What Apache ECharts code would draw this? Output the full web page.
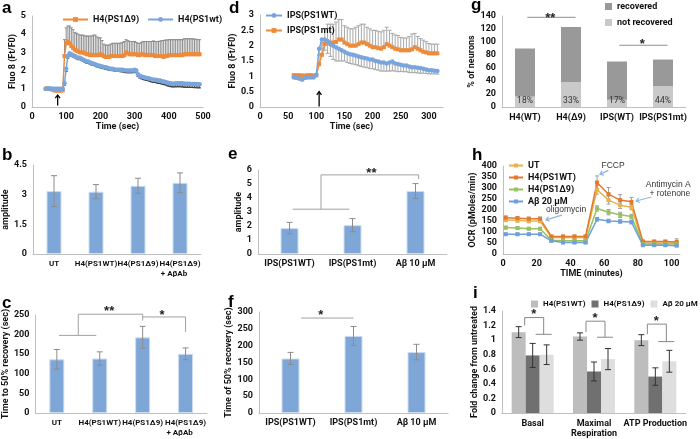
<!DOCTYPE html>
<html><head><meta charset="utf-8">
<script src="https://cdn.jsdelivr.net/npm/echarts@6/dist/echarts.min.js"></script>
<style>html,body{margin:0;padding:0;background:#fff}#c{width:700px;height:439px}</style>
</head><body><div id="c"></div>
<script>
// ---------- DATA ----------
// panel a
const aT = [40,45,50,55,60,65,70,75,80,85,90,95,100,105,110,115,120,125,130,135,140,145,150,155,160,165,170,175,180,185,190,195,200,205,210,215,220,225,230,235,240,245,250,255,260,265,270,275,280,285,290,295,300,305,310,315,320,325,330,335,340,345,350,355,360,365,370,375,380,385,390,395,400,405,410,415,420,425,430,435,440,445,450,455,460,465,470,475,480,485,490];
const aD9 = [1.0,1.02,1.0,0.98,0.95,0.92,0.9,0.9,0.9,0.9,0.92,
 2.8,3.5,3.6,3.5,3.35,3.25,3.15,3.1,3.05,
 3.0,3.0,3.0,2.95,2.9,2.9,2.85,2.85,2.85,2.85,
 2.85,2.85,2.9,2.85,2.8,2.75,2.75,2.75,2.8,2.8,
 2.8,2.8,2.8,2.8,2.8,2.8,2.85,3.0,2.95,2.9,
 2.9,2.9,2.9,2.9,2.85,2.85,2.9,2.9,2.85,2.85,
 2.85,2.85,2.85,2.85,2.8,2.8,2.8,2.8,2.8,2.75,
 2.8,2.8,2.85,2.85,2.85,2.85,2.85,2.85,2.85,2.85,
 2.85,2.9,2.9,2.9,2.9,2.9,2.9,2.9,2.9,2.9,2.9];
const aD9Err = [0.08,0.08,0.08,0.08,0.08,0.08,0.08,0.08,0.08,0.08,0.08,
 0.9,0.85,0.85,0.95,1.0,1.0,0.95,0.95,0.95,
 0.95,0.95,0.95,0.95,1.0,1.0,1.05,1.05,1.1,1.1,
 1.0,0.95,0.9,0.8,0.65,0.65,0.65,0.65,0.65,0.7,
 0.7,0.7,0.7,0.7,0.72,0.75,0.75,0.7,0.7,0.7,
 0.7,0.7,0.7,0.65,0.65,0.65,0.65,0.7,0.75,0.75,
 0.75,0.75,0.75,0.78,0.8,0.8,0.8,0.82,0.85,0.9,
 0.88,0.88,0.85,0.85,0.85,0.85,0.85,0.85,0.85,0.85,
 0.85,0.85,0.85,0.85,0.85,0.85,0.85,0.83,0.82,0.8,0.8];
const aWT = [1.0,1.0,1.02,1.02,1.0,1.0,1.0,1.0,1.0,1.0,1.0,
 1.3,2.1,2.8,2.95,2.9,2.85,2.8,2.75,2.7,
 2.7,2.65,2.6,2.55,2.5,2.5,2.45,2.4,2.38,2.35,
 2.3,2.28,2.25,2.22,2.2,2.18,2.15,2.12,2.1,2.1,
 2.08,2.05,2.05,2.05,2.05,2.05,2.02,2.0,2.0,2.0,
 2.0,2.0,2.05,2.0,1.8,1.72,1.68,1.65,1.62,1.6,
 1.58,1.55,1.52,1.5,1.5,1.48,1.45,1.45,1.42,1.4,
 1.38,1.35,1.32,1.3,1.28,1.28,1.3,1.3,1.3,1.3,
 1.3,1.28,1.28,1.28,1.28,1.27,1.27,1.26,1.26,1.25,1.25];
const aWTErr = [0.05,0.05,0.05,0.05,0.05,0.05,0.05,0.05,0.05,0.05,0.05,
 0.1,0.15,0.12,0.1,0.1,0.1,0.1,0.1,0.1,
 0.1,0.1,0.1,0.1,0.1,0.1,0.1,0.1,0.1,0.1,
 0.1,0.1,0.1,0.1,0.1,0.1,0.1,0.1,0.1,0.1,
 0.1,0.1,0.1,0.1,0.12,0.12,0.12,0.12,0.12,0.12,
 0.12,0.12,0.12,0.12,0.13,0.13,0.13,0.14,0.14,0.14,
 0.14,0.15,0.15,0.15,0.15,0.16,0.16,0.16,0.17,0.17,
 0.17,0.18,0.18,0.18,0.18,0.18,0.19,0.19,0.19,0.19,
 0.2,0.2,0.2,0.2,0.2,0.2,0.2,0.2,0.2,0.2,0.2];
// panel d
const dT = [60,65,70,75,80,85,90,95,100,105,110,115,120,125,130,135,140,145,150,155,160,165,170,175,180,185,190,195,200,205,210,215,220,225,230,235,240,245,250,255,260,265,270,275,280,285,290,295,300,305,310,315];
const dWT = [0.97,0.95,0.93,0.9,0.95,0.97,0.97,0.97,1.05,1.9,2.2,2.2,2.15,2.05,2.0,1.95,1.9,1.85,1.8,1.75,1.72,1.7,1.68,1.65,1.62,1.6,1.58,1.55,1.55,1.5,1.48,1.45,1.45,1.42,1.45,1.48,1.42,1.4,1.38,1.35,1.35,1.32,1.3,1.3,1.28,1.27,1.25,1.22,1.2,1.2,1.18,1.17];
const dWTErr = [0.05,0.05,0.05,0.05,0.05,0.05,0.05,0.05,0.05,0.2,0.3,0.35,0.4,0.4,0.45,0.45,0.4,0.35,0.3,0.3,0.3,0.3,0.3,0.3,0.3,0.3,0.3,0.3,0.3,0.28,0.28,0.28,0.28,0.25,0.28,0.3,0.25,0.25,0.22,0.2,0.2,0.2,0.18,0.18,0.17,0.17,0.15,0.13,0.12,0.12,0.1,0.1];
const dMT = [1.03,1.03,1.03,1.02,1.02,1.03,1.03,1.02,1.03,1.4,1.7,2.05,2.1,2.1,2.1,2.12,2.2,2.2,2.1,2.05,2.0,2.0,2.0,2.05,2.1,2.1,2.05,2.0,1.95,1.95,1.92,1.9,1.95,2.05,2.0,1.95,1.9,1.88,1.85,1.85,1.85,1.85,1.88,1.95,1.9,1.85,1.8,1.78,1.75,1.75,1.75,1.75];
const dMTErr = [0.05,0.05,0.05,0.05,0.05,0.05,0.05,0.05,0.05,0.3,0.4,0.5,0.6,0.6,0.6,0.65,0.65,0.65,0.55,0.55,0.55,0.55,0.6,0.6,0.6,0.6,0.55,0.55,0.55,0.55,0.55,0.55,0.55,0.55,0.5,0.45,0.45,0.45,0.42,0.4,0.4,0.45,0.5,0.45,0.4,0.38,0.38,0.35,0.32,0.3,0.3,0.3];
// panel g
const gCats = ['H4(WT)','H4(Δ9)','IPS(WT)','IPS(PS1mt)'];
const gRecovered = [74,85,59,41];
const gNotRecovered = [16,38,11,32];
const gPct = ['18%','33%','17%','44%'];
// panel b
const bCats = ['UT','H4(PS1WT)','H4(PS1Δ9)','H4(PS1Δ9)\n+ AβAb      '];
const bVals = [3.18,3.15,3.45,3.6];
const bErr = [0.78,0.36,0.38,0.5];
// panel e
const eCats = ['IPS(PS1WT)','IPS(PS1mt)','Aβ 10 μM'];
const eVals = [1.85,2.06,4.5];
const eErr = [0.41,0.47,0.53];
// panel h
const hT = [1.6,8.6,15.3,22,28.7,35.6,42.4,49,55.8,62.6,69.5,76.2,83,89.7,96.3,103];
const hUT = [155,153,150,150,75,75,75,75,292,245,222,213,50,50,50,50];
const hWT = [165,163,160,160,80,80,80,80,325,272,245,237,57,57,57,55];
const hD9 = [120,118,115,115,62,60,60,60,207,190,178,170,45,45,45,45];
const hAb = [90,90,90,90,60,52,52,52,158,150,148,145,40,40,40,38];
const hUTErr = [8,8,8,8,5,5,5,5,20,18,15,12,5,5,5,5];
const hWTErr = [8,8,8,8,5,5,5,5,30,30,25,20,5,5,5,14];
const hD9Err = [6,6,6,6,5,5,5,5,12,12,12,10,4,4,4,4];
const hAbErr = [5,5,5,5,4,4,4,4,8,8,8,8,4,4,4,4];
// panel c
const cCats = ['UT','H4(PS1WT)','H4(PS1Δ9)','H4(PS1Δ9)\n+ AβAb      '];
const cVals = [137,139,193,151];
const cErr = [25,17,28,15];
// panel f
const fCats = ['IPS(PS1WT)','IPS(PS1mt)','Aβ 10 μM'];
const fVals = [162,229,181];
const fErr = [18,28,23];
// panel i
const iCats = ['Basal','Maximal\nRespiration','ATP Production'];
const iWT = [1.11,1.05,1.0];
const iWTErr = [0.075,0.05,0.075];
const iD9 = [0.79,0.57,0.50];
const iD9Err = [0.165,0.13,0.12];
const iAb = [0.80,0.74,0.71];
const iAbErr = [0.135,0.145,0.15];

// ---------- STYLE HELPERS ----------
const FF = "Roboto,'Liberation Sans',Arial,sans-serif";
const AX = '#bfbfbf';
const TXT = '#111';
const ORANGE = '#ee8b3a', BLUE = '#79a5dc', BAR = '#7ea7d8';
const lbl = (fs) => ({fontFamily:FF, fontSize:fs||9, fontWeight:'bold', color:TXT});
const nameStyle = () => ({fontFamily:FF, fontSize:9, fontWeight:'bold', color:TXT});

function valAxis(gi, min, max, interval, name, nameGap, o) {
  o = o || {};
  return {type:'value', gridIndex:gi, min, max, interval,
    axisLine:{show:true, lineStyle:{color:AX}}, axisTick:{show:false}, splitLine:{show:false},
    axisLabel:Object.assign(lbl(9), {margin:o.margin||5, showMaxLabel:o.showMax!==false}),
    name, nameLocation:'middle', nameGap, nameTextStyle:nameStyle()};
}
function catAxis(gi, data, o) {
  o = o || {};
  return {type:'category', gridIndex:gi, data, boundaryGap:true,
    axisLine:{show:true, lineStyle:{color:AX}}, axisTick:{show:false}, splitLine:{show:false},
    axisLabel:Object.assign(lbl(o.fs||8), {margin:o.margin||5, interval:0, lineHeight:10})};
}
function lineS(gi, name, xs, ys, color, symbol, size) {
  return {type:'line', name, xAxisIndex:gi, yAxisIndex:gi, data:xs.map((x,i)=>[x, ys[i]]),
    symbol, symbolSize:size, showSymbol:true, lineStyle:{width:1.5, color}, itemStyle:{color}, z:3, animation:false};
}
function errS(gi, xs, vals, errs, o) {
  const data = xs.map((x,i)=>[x, vals[i]-(o.down?errs[i]:0), vals[i]+(o.up?errs[i]:0)]);
  return {type:'custom', xAxisIndex:gi, yAxisIndex:gi, silent:true, z:o.z||2, data,
    renderItem(params, api){
      const x = api.value(0);
      const lo = api.coord([x, api.value(1)]), hi = api.coord([x, api.value(2)]);
      const X = lo[0] + (o.offset||0), c = o.cap;
      const st = {stroke:o.color, lineWidth:o.lw||1};
      const ch = [{type:'line', shape:{x1:X,y1:lo[1],x2:X,y2:hi[1]}, style:st}];
      if (o.up) ch.push({type:'line', shape:{x1:X-c,y1:hi[1],x2:X+c,y2:hi[1]}, style:st});
      if (o.down) ch.push({type:'line', shape:{x1:X-c,y1:lo[1],x2:X+c,y2:lo[1]}, style:st});
      return {type:'group', children:ch};
    }};
}
function barS(gi, name, vals, color, w, extra) {
  return Object.assign({type:'bar', name, xAxisIndex:gi, yAxisIndex:gi, data:vals, barWidth:w,
    itemStyle:{color, borderColor:'#cddcf0', borderWidth:1}, z:2}, extra||{});
}
const legendBase = (o) => Object.assign({selectedMode:false, padding:0, formatter:n=>n.slice(2),
  textStyle:{fontFamily:FF, fontSize:o.fs||9, fontWeight:'bold', color:TXT}}, o);

// ---------- OPTION ----------
const grids = [
  {left:32, top:16, width:171, height:91},   // 0 a
  {left:260, top:15, width:183, height:92},  // 1 d
  {left:502, top:16, width:184, height:91},  // 2 g
  {left:33, top:165, width:168, height:89},  // 3 b
  {left:258, top:170, width:189, height:84}, // 4 e
  {left:503, top:166, width:177, height:88}, // 5 h
  {left:32, top:315, width:175, height:98},  // 6 c
  {left:259, top:312, width:189, height:101},// 7 f
  {left:502, top:311, width:184, height:103} // 8 i
];
const xAxes = [
  valAxis(0,0,500,100,'Time (sec)',14),
  valAxis(1,0,325,50,'Time (sec)',14,{showMax:false}),
  catAxis(2, gCats, {margin:6, fs:9}),
  catAxis(3, bCats, {margin:5}),
  catAxis(4, eCats, {margin:5, fs:9}),
  valAxis(5,0,105,20,'TIME (minutes)',15,{showMax:false}),
  catAxis(6, cCats, {margin:5}),
  catAxis(7, fCats, {margin:5, fs:9}),
  catAxis(8, iCats, {margin:6, fs:9})
];
const yAxes = [
  valAxis(0,0,5,1,'Fluo 8 (Ft/F0)',15,{margin:6}),
  valAxis(1,0,3,0.5,'Fluo 8 (Ft/F0)',21,{margin:6}),
  valAxis(2,0,140,20,'% of neurons',19,{margin:6}),
  valAxis(3,0,4.5,1.5,'amplitude',17,{margin:6}),
  valAxis(4,0,6,1,'amplitude',10,{margin:6}),
  valAxis(5,0,400,50,'OCR (pMoles/min)',20,{margin:6}),
  valAxis(6,0,250,50,'Time to 50% recovery (sec)',23,{margin:6}),
  valAxis(7,0,300,50,'Time of 50% recovery (sec)',21,{margin:6}),
  valAxis(8,0,1.4,0.2,'Fold change from untreated',20,{margin:6})
];
const idx3 = [0,1,2], idx4 = [0,1,2,3];
const series = [
  // a
  errS(0, aT, aD9, aD9Err, {up:true, color:'#8c8c8c', cap:1.5}),
  lineS(0, 'a|H4(PS1Δ9)', aT, aD9, ORANGE, 'rect', 4),
  errS(0, aT, aWT, aWTErr, {down:true, color:'#404040', cap:1.5}),
  lineS(0, 'a|H4(PS1wt)', aT, aWT, BLUE, 'circle', 4.5),
  // d
  errS(1, dT, dMT, dMTErr, {up:true, color:'#a8a8a8', cap:2}),
  errS(1, dT, dWT, dWTErr, {down:true, color:'#a8a8a8', cap:2}),
  lineS(1, 'd|IPS(PS1mt)', dT, dMT, ORANGE, 'rect', 4),
  lineS(1, 'd|IPS(PS1WT)', dT, dWT, BLUE, 'circle', 4.5),
  // g
  {type:'bar', name:'g|not recovered', xAxisIndex:2, yAxisIndex:2, stack:'g', data:gNotRecovered, barWidth:20,
    itemStyle:{color:'#c9c9c9'},
    label:{show:true, position:'insideBottom', distance:2, formatter:p=>gPct[p.dataIndex], fontFamily:FF, fontSize:8.5, color:'#333'}},
  {type:'bar', name:'g|recovered', xAxisIndex:2, yAxisIndex:2, stack:'g', data:gRecovered, barWidth:20,
    itemStyle:{color:'#999999'}},
  // b
  barS(3, 'b', bVals, BAR, 15),
  errS(3, idx4, bVals, bErr, {up:true, down:true, color:'#8c8c8c', cap:3, z:4}),
  // e
  barS(4, 'e', eVals, BAR, 18),
  errS(4, idx3, eVals, eErr, {up:true, down:true, color:'#8c8c8c', cap:3, z:4}),
  // h
  errS(5, hT, hWT, hWTErr, {up:true, down:true, color:'#a0a0a0', cap:2}),
  errS(5, hT, hUT, hUTErr, {up:true, down:true, color:'#a0a0a0', cap:2}),
  errS(5, hT, hD9, hD9Err, {up:true, down:true, color:'#a0a0a0', cap:2}),
  errS(5, hT, hAb, hAbErr, {up:true, down:true, color:'#a0a0a0', cap:2}),
  lineS(5, 'h|UT', hT, hUT, '#e9b24a', 'rect', 4),
  lineS(5, 'h|H4(PS1WT)', hT, hWT, '#e2792b', 'rect', 4),
  lineS(5, 'h|H4(PS1Δ9)', hT, hD9, '#98c25e', 'rect', 4),
  lineS(5, 'h|Aβ 20 μM', hT, hAb, '#6d9fdc', 'rect', 4),
  // c
  barS(6, 'c', cVals, BAR, 15),
  errS(6, idx4, cVals, cErr, {up:true, down:true, color:'#8c8c8c', cap:3, z:4}),
  // f
  barS(7, 'f', fVals, BAR, 18),
  errS(7, idx3, fVals, fErr, {up:true, down:true, color:'#8c8c8c', cap:3, z:4}),
  // i
  {type:'bar', name:'i|H4(PS1WT)', xAxisIndex:8, yAxisIndex:8, data:iWT, barWidth:14, barGap:'0%', itemStyle:{color:'#bdbdbd'}},
  {type:'bar', name:'i|H4(PS1Δ9)', xAxisIndex:8, yAxisIndex:8, data:iD9, barWidth:14, barGap:'0%', itemStyle:{color:'#707070'}},
  {type:'bar', name:'i|Aβ 20 μM', xAxisIndex:8, yAxisIndex:8, data:iAb, barWidth:14, barGap:'0%', itemStyle:{color:'#dedede'}},
  errS(8, idx3, iWT, iWTErr, {up:true, down:true, color:'#333', cap:3, offset:-14, z:4}),
  errS(8, idx3, iD9, iD9Err, {up:true, down:true, color:'#333', cap:3, offset:0, z:4}),
  errS(8, idx3, iAb, iAbErr, {up:true, down:true, color:'#333', cap:3, offset:14, z:4})
];
const titleStyle = {fontFamily:"'Liberation Sans',Arial,sans-serif", fontSize:17, fontWeight:'bold', color:'#000'};
const titles = [
  ['a',2,0],['d',229,0],['g',471,-3],['b',2,147],['e',228,146],['h',472,147],['c',2,295],['f',228,294],['i',473,285]
].map(t=>({text:t[0], left:t[1], top:t[2], padding:0, textStyle:titleStyle}));

const option = {
  animation:false,
  backgroundColor:'#fff',
  title:titles,
  grid:grids,
  xAxis:xAxes,
  yAxis:yAxes,
  legend:[
    legendBase({left:62, top:15, itemWidth:25, itemHeight:6, itemGap:8, data:['a|H4(PS1Δ9)','a|H4(PS1wt)']}),
    legendBase({left:265, top:11, orient:'vertical', itemWidth:16, itemHeight:6, itemGap:6, data:['d|IPS(PS1WT)','d|IPS(PS1mt)']}),
    legendBase({left:605, top:2, orient:'vertical', icon:'rect', itemWidth:7, itemHeight:7, itemGap:7, data:['g|recovered','g|not recovered']}),
    legendBase({left:508, top:161, orient:'vertical', itemWidth:14, itemHeight:5, itemGap:3, data:['h|UT','h|H4(PS1WT)','h|H4(PS1Δ9)','h|Aβ 20 μM']}),
    legendBase({left:531, top:300, width:220, fs:8, icon:'rect', itemWidth:7, itemHeight:7, itemGap:6, data:['i|H4(PS1WT)','i|H4(PS1Δ9)','i|Aβ 20 μM']})
  ],
  series
};
const chart = echarts.init(document.getElementById('c'));
chart.setOption(option);

// ---------- ANNOTATIONS (data coords -> pixels) ----------
const G = [];
const BR = '#a0a0a0';
function poly(pts, color, w){ G.push({type:'polyline', silent:true, z:100, shape:{points:pts}, style:{stroke:color, lineWidth:w||1, fill:null}}); }
function txt(p, s, o){ G.push({type:'text', silent:true, z:100, x:p[0], y:p[1], style:Object.assign({text:s, fontFamily:FF, fontSize:9, fill:'#222', align:'center', verticalAlign:'middle'}, o||{})}); }
function cp(gi, c, v, dx){ const a = chart.convertToPixel({gridIndex:gi}, [0, v]); const b = chart.convertToPixel({gridIndex:gi}, [1, v]); return [a[0]+(b[0]-a[0])*c+(dx||0), a[1]]; }
function vp(gi, x, v){ return chart.convertToPixel({gridIndex:gi}, [x, v]); }
function arrow(p0, p1, color, w, h){ poly([p0,p1], color, w); const ang = Math.atan2(p1[1]-p0[1], p1[0]-p0[0]); const a1 = ang+Math.PI*0.8, a2 = ang-Math.PI*0.8;
  poly([[p1[0]+h*Math.cos(a1), p1[1]+h*Math.sin(a1)], p1, [p1[0]+h*Math.cos(a2), p1[1]+h*Math.sin(a2)]], color, w); }
const star = {fontFamily:"'Liberation Sans',Arial", fontSize:13, fontWeight:'bold', fill:'#222'};

// a, d stimulus arrows
arrow(vp(0,75,0.08), vp(0,75,0.66), '#000', 1.3, 4);
arrow(vp(1,105,0.02), vp(1,105,0.5), '#000', 1.3, 4);
// g
poly([cp(2,0.05,138), cp(2,1.1,138)], '#909090');
txt(cp(2,0.55,137), '**', star);
poly([cp(2,2.05,95), cp(2,3.1,95)], '#909090');
txt(cp(2,2.55,96), '*', star);
// e
poly([cp(4,0.05,3.2), cp(4,0.95,3.2)], BR);
poly([cp(4,0.5,3.2), cp(4,0.5,5.65), cp(4,2.05,5.65), cp(4,2.05,5.35)], BR);
txt(cp(4,1.3,5.75), '**', star);
// c
poly([cp(6,0.05,198), cp(6,0.92,198)], BR);
poly([cp(6,0.5,198), cp(6,0.5,252), cp(6,2,252), cp(6,2,236)], BR);
txt(cp(6,1.22,258), '**', star);
poly([cp(6,2,245), cp(6,3,245), cp(6,3,207)], BR);
txt(cp(6,2.45,250), '*', star);
// f
poly([cp(7,0.17,282), cp(7,1,282)], BR);
txt(cp(7,0.48,290), '*', star);
// i
const iTop = [1.31,1.26,1.22], iLeft = [1.2,1.11,1.08], iLow = [1.08,1.04,0.98];
for (let k=0;k<3;k++){
  poly([cp(8,k,iLeft[k],-8), cp(8,k,iTop[k],-8), cp(8,k,iTop[k],11), cp(8,k,iLow[k],11)], '#888');
  poly([cp(8,k,iLow[k],3), cp(8,k,iLow[k],19)], '#888');
  txt(cp(8,k,iTop[k]+0.04,1), '*', star);
}
// h
const AR = '#8db5e2';
const hText = {fontFamily:"'Liberation Sans',Arial", fontSize:8.5, fill:'#333'};
txt(vp(5,65.3,400), 'FCCP', hText);
arrow(vp(5,62.5,380), vp(5,57.5,362), AR, 1.2, 4);
txt(vp(5,37.4,200), 'oligomycin', hText);
arrow(vp(5,35,177), vp(5,25.5,155), AR, 1.2, 4);
txt(vp(5,98,317), 'Antimycin A', hText);
txt(vp(5,99,275), '+ rotenone', hText);
arrow(vp(5,88,259), vp(5,79,241), AR, 1.2, 4);

chart.setOption({graphic:G});
</script></body></html>
